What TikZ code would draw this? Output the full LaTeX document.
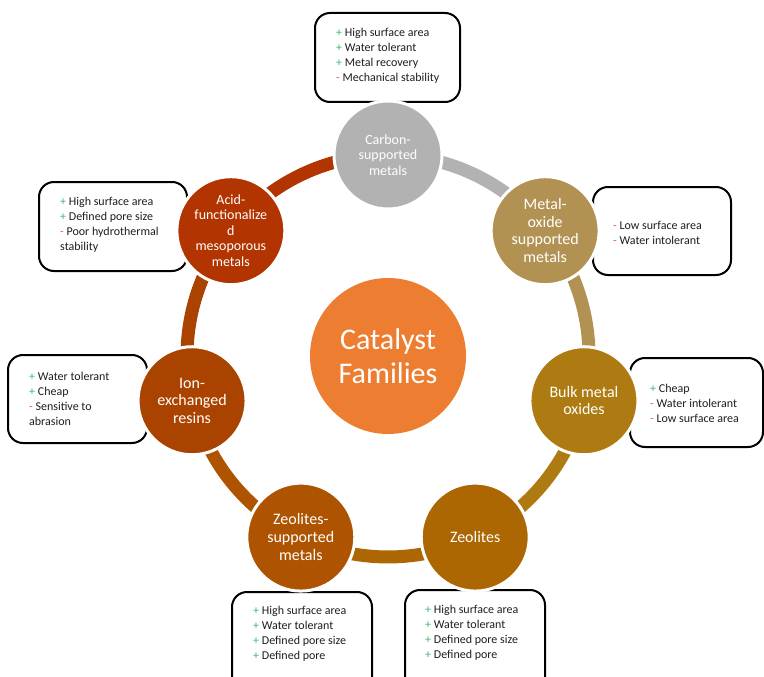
\documentclass[tikz,border=0pt]{standalone}
\usepackage{fontspec}
\setmainfont{Carlito}
\definecolor{cCarbon}{RGB}{178,178,178}
\definecolor{cMetOx}{RGB}{178,146,82}
\definecolor{cBulk}{RGB}{174,122,18}
\definecolor{cZeo}{RGB}{172,102,2}
\definecolor{cZeoSup}{RGB}{174,84,0}
\definecolor{cIon}{RGB}{171,67,0}
\definecolor{cAcid}{RGB}{178,52,0}
\definecolor{cCenter}{RGB}{237,125,49}
\definecolor{cPlus}{RGB}{60,185,110}
\definecolor{cMinus}{RGB}{232,90,90}
\definecolor{cText}{RGB}{30,30,30}
\newcommand{\pl}{{\color{cPlus}+} }
\newcommand{\mi}{{\color{cMinus}-} }
\begin{document}
\begin{tikzpicture}[x=1pt,y=-1pt,
  infobox/.style={draw=black, line width=2pt, rounded corners=15pt, fill=white, rectangle, inner sep=0pt, outer sep=0pt},
  infotext/.style={anchor=west, inner sep=0pt, align=left, text=cText, font=\fontsize{12}{15}\selectfont},
  family/.style={circle, draw=white, line width=3pt, minimum size=108pt, inner sep=0pt, outer sep=0pt, text=white, align=center},
  ringarc/.style={line width=13pt}
]
\useasboundingbox (0,0) rectangle (764,677);
\clip (0,0) rectangle (764,677);

% information boxes
\node[infobox, minimum width=145pt, minimum height=89pt] (bTop) at (387.5,57.5) {};
\node[infobox, minimum width=148pt, minimum height=89pt] (bAcid) at (113,226.5) {};
\node[infobox, minimum width=139pt, minimum height=88pt] (bIon) at (77.5,399) {};
\node[infobox, minimum width=138pt, minimum height=88pt] (bMetOx) at (662,231) {};
\node[infobox, minimum width=133pt, minimum height=89pt] (bBulk) at (696.5,402.5) {};
\node[infobox, minimum width=140pt, minimum height=120pt] (bZeoSup) at (302,652) {};
\node[infobox, minimum width=140pt, minimum height=120pt] (bZeo) at (475,650) {};

% ring segments
\draw[ringarc, cCarbon] (388,155) coordinate (pC) arc[start angle=-90, end angle=-38.5714, radius=201];
\draw[ringarc, cMetOx] ([shift={(-38.5714:201)}]388,356) arc[start angle=-38.5714, end angle=12.8571, radius=201];
\draw[ringarc, cBulk] ([shift={(12.8571:201)}]388,356) arc[start angle=12.8571, end angle=64.2857, radius=201];
\draw[ringarc, cZeo] ([shift={(64.2857:201)}]388,356) arc[start angle=64.2857, end angle=115.7143, radius=201];
\draw[ringarc, cZeoSup] ([shift={(115.7143:201)}]388,356) arc[start angle=115.7143, end angle=167.1429, radius=201];
\draw[ringarc, cIon] ([shift={(167.1429:201)}]388,356) arc[start angle=167.1429, end angle=218.5714, radius=201];
\draw[ringarc, cAcid] ([shift={(218.5714:201)}]388,356) arc[start angle=218.5714, end angle=270, radius=201];

% family circles
\node[circle, fill=cCenter, minimum size=156pt, inner sep=0pt, text=white, align=center, font=\fontsize{30}{34}\selectfont] (nCenter) at (388,356) {Catalyst\\Families};
\node[family, fill=cCarbon, font=\fontsize{14}{15.5}\selectfont] (nCarbon) at ([shift={(-90:201)}]nCenter.center) {Carbon-\\supported\\metals};
\node[family, fill=cMetOx, font=\fontsize{16}{17.5}\selectfont] (nMetOx) at ([shift={(-38.5714:201)}]nCenter.center) {Metal-\\oxide\\supported\\metals};
\node[family, fill=cBulk, font=\fontsize{16}{17.5}\selectfont] (nBulk) at ([shift={(12.8571:201)}]nCenter.center) {Bulk metal\\oxides};
\node[family, fill=cZeo, font=\fontsize{16}{17.5}\selectfont] (nZeo) at ([shift={(64.2857:201)}]nCenter.center) {Zeolites};
\node[family, fill=cZeoSup, font=\fontsize{16}{18}\selectfont] (nZeoSup) at ([shift={(115.7143:201)}]nCenter.center) {Zeolites-\\supported\\metals};
\node[family, fill=cIon, font=\fontsize{16}{17.5}\selectfont] (nIon) at ([shift={(167.1429:201)}]nCenter.center) {Ion-\\exchanged\\resins};
\node[family, fill=cAcid, font=\fontsize{14}{15.5}\selectfont] (nAcid) at ([shift={(218.5714:201)}]nCenter.center) {Acid-\\functionalize\\d\\mesoporous\\metals};

% box texts
\node[infotext] (tTop) at (336,55.5) {\pl High surface area\\\pl Water tolerant\\\pl Metal recovery\\\mi Mechanical stability};
\node[infotext] (tAcid) at (60,225) {\pl High surface area\\\pl Defined pore size\\\mi Poor hydrothermal\\stability};
\node[infotext] (tIon) at (29,398.5) {\pl Water tolerant\\\pl Cheap\\\mi Sensitive to\\abrasion};
\node[infotext] (tMetOx) at (613,232.5) {\mi Low surface area\\\mi Water intolerant};
\node[infotext] (tBulk) at (650,403) {\pl Cheap\\\mi Water intolerant\\\mi Low surface area};
\node[infotext] (tZeoSup) at (253,634) {\pl High surface area\\\pl Water tolerant\\\pl Defined pore size\\\pl Defined pore};
\node[infotext] (tZeo) at (425,632.5) {\pl High surface area\\\pl Water tolerant\\\pl Defined pore size\\\pl Defined pore};
\end{tikzpicture}
\end{document}
